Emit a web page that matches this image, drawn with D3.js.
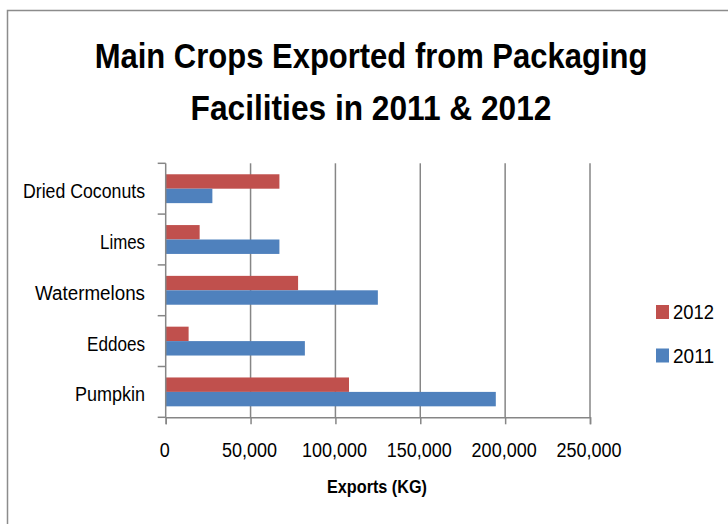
<!DOCTYPE html>
<html>
<head>
<meta charset="utf-8">
<script src="https://cdn.jsdelivr.net/npm/d3@7"></script>
<style>
  html, body { margin: 0; padding: 0; background: #fff; }
  svg { display: block; }
  text { font-family: 'Liberation Sans', Arial, sans-serif; fill: #000; }
</style>
</head>
<body>
<svg id="chart" width="728" height="524"></svg>
<script>
const titleLines = ["Main Crops Exported from Packaging", "Facilities in 2011 & 2012"];
const categories = ["Dried Coconuts", "Limes", "Watermelons", "Eddoes", "Pumpkin"];
const seriesNames = ["2012", "2011"];
const values2012 = [67000, 20000, 78000, 13500, 108000];
const values2011 = [27500, 67000, 125000, 82000, 194500];
const xTicks = [0, 50000, 100000, 150000, 200000, 250000];
const xAxisTitle = "Exports (KG)";
const colors = { "2012": "#C0504D", "2011": "#4F81BD" };

const svg = d3.select("#chart");
const gridColor = "#868686";

// outer chart border
svg.append("path")
  .attr("d", "M7.5,524 L7.5,10.5 L728,10.5")
  .attr("fill", "none").attr("stroke", "#8c8c8c").attr("stroke-width", 1.5);

// narrow the fallback font to mimic the condensed original face
function fitTo(sel, widthFn) {
  sel.each(function(d, i) {
    const w = widthFn(d, i, this.getComputedTextLength());
    d3.select(this).attr("textLength", w).attr("lengthAdjust", "spacingAndGlyphs");
  });
}

// title (condensed by a horizontal scale about its centre)
const titleW = [553, 361];
const titleY = [68, 120];
const titleG = svg.append("g");
titleLines.forEach((t, i) => {
  const g = titleG.append("g");
  const el = g.append("text")
    .attr("x", 0).attr("y", 0)
    .attr("text-anchor", "middle")
    .attr("font-size", 36).attr("font-weight", "bold")
    .text(t);
  const n = el.node().getComputedTextLength();
  g.attr("transform", `translate(371,${titleY[i]}) scale(${titleW[i] / n},1)`);
});

const x = d3.scaleLinear().domain([0, 250000]).range([165.7, 590]);
const y0 = d3.scaleBand().domain(categories).range([163.3, 417.3]).padding(0);
const y1 = d3.scaleBand().domain(seriesNames).range([0, y0.bandwidth()]).paddingInner(0).paddingOuter(0.76);

const data = categories.map((c, i) => ({ cat: c, "2012": values2012[i], "2011": values2011[i] }));

// gridlines
svg.append("g").selectAll("line").data(xTicks.slice(1)).join("line")
  .attr("x1", d => x(d)).attr("x2", d => x(d))
  .attr("y1", 163.3).attr("y2", 417.3)
  .attr("stroke", gridColor).attr("stroke-width", 1.5);

// bars
const groups = svg.append("g").selectAll("g").data(data).join("g")
  .attr("transform", d => `translate(0,${y0(d.cat)})`);
groups.selectAll("rect").data(d => seriesNames.map(s => ({ s, v: d[s] }))).join("rect")
  .attr("x", x(0))
  .attr("y", d => y1(d.s))
  .attr("width", d => x(d.v) - x(0))
  .attr("height", y1.bandwidth())
  .attr("fill", d => colors[d.s]);

// x axis
const xAxis = d3.axisBottom(x).tickValues(xTicks).tickSize(7).tickFormat(d3.format(","));
const gx = svg.append("g").attr("transform", "translate(0,417.3)").call(xAxis);
gx.select(".domain").attr("stroke", gridColor).attr("stroke-width", 1.5);
gx.selectAll(".tick line").attr("stroke", gridColor).attr("stroke-width", 1.5);
gx.selectAll(".tick text")
  .attr("font-size", 20).attr("font-family", null)
  .attr("fill", "#000").attr("y", 39.5).attr("dy", 0).attr("dx", -1.5)
  .call(fitTo, (d, i, n) => n * 0.9);

// y axis (ticks at band boundaries)
const yAxisG = svg.append("g");
yAxisG.append("line").attr("x1", x(0)).attr("x2", x(0)).attr("y1", 163.3).attr("y2", 417.3)
  .attr("stroke", gridColor).attr("stroke-width", 1.5);
const bounds = categories.map(c => y0(c)).concat([y0.range()[1]]);
yAxisG.selectAll("line.t").data(bounds).join("line").attr("class", "t")
  .attr("x1", x(0) - 8).attr("x2", x(0)).attr("y1", d => d).attr("y2", d => d)
  .attr("stroke", gridColor).attr("stroke-width", 1.5);
const catW = { "Dried Coconuts": 122, "Limes": 45, "Watermelons": 110, "Eddoes": 58, "Pumpkin": 70 };
yAxisG.selectAll("text").data(categories).join("text")
  .attr("x", 145).attr("y", d => y0(d) + y0.bandwidth() / 2 + 9.5)
  .attr("text-anchor", "end").attr("font-size", 20)
  .text(d => d)
  .call(fitTo, d => catW[d]);

// x axis title
svg.append("text").attr("x", 377).attr("y", 493).attr("text-anchor", "middle")
  .attr("font-size", 19).attr("font-weight", "bold").text(xAxisTitle)
  .call(fitTo, () => 100);

// legend
const legY = [305, 348.5];
const leg = svg.append("g").selectAll("g").data(seriesNames).join("g")
  .attr("transform", (d, i) => `translate(656,${legY[i]})`);
leg.append("rect").attr("width", 13).attr("height", 14).attr("fill", d => colors[d]);
leg.append("text").attr("x", 17).attr("y", 14.3).attr("font-size", 20).text(d => d)
  .call(fitTo, () => 41);
</script>
</body>
</html>
